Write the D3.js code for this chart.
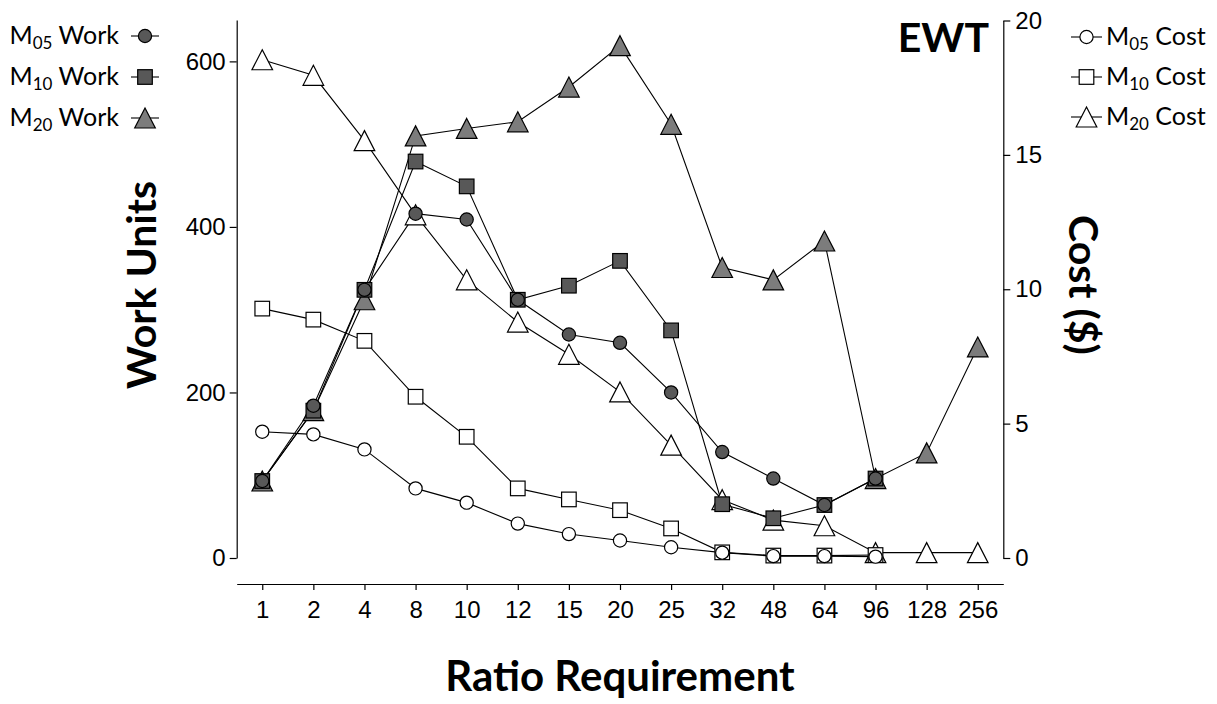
<!DOCTYPE html>
<html>
<head>
<meta charset="utf-8">
<script src="https://cdn.jsdelivr.net/npm/d3@7"></script>
<style>
  body { margin: 0; background: #fff; }
  svg { font-family: Lato, "Open Sans", sans-serif; }
  .axis text { font-size: 24px; fill: #000; }
  .axis path, .axis line { stroke: #000; stroke-width: 1.2; }
</style>
</head>
<body>
<div id="chart"></div>
<script>
const width = 1217, height = 704;

// ratio requirement categories
const ratios = ['1', '2', '4', '8', '10', '12', '15', '20', '25', '32', '48', '64', '96', '128', '256'];

// work units (left axis)
const m05Work = [93, 184, 324, 416, 409, 312, 270, 260, 200, 128, 96, 64, 96, null, null];
const m10Work = [93, 178, 324, 479, 449, 312, 329, 359, 275, 65, 48, 64, 96, null, null];
const m20Work = [93, 178, 312, 510, 519, 527, 569, 619, 524, 351, 336, 383, 96, 127, 255];

// cost in dollars (right axis)
const m05Cost = [4.70, 4.60, 4.04, 2.59, 2.06, 1.28, 0.89, 0.65, 0.40, 0.20, 0.07, 0.07, 0.05, null, null];
const m10Cost = [9.28, 8.87, 8.08, 6.00, 4.51, 2.59, 2.18, 1.78, 1.10, 0.21, 0.09, 0.09, 0.11, null, null];
const m20Cost = [18.54, 17.96, 15.53, 12.77, 10.35, 8.78, 7.58, 6.18, 4.20, 2.17, 1.41, 1.20, 0.20, 0.20, 0.20];

const leftTicks = [0, 200, 400, 600];
const rightTicks = [0, 5, 10, 15, 20];

const svg = d3.select('#chart').append('svg')
  .attr('width', width)
  .attr('height', height);

const x = d3.scalePoint()
  .domain(ratios)
  .range([236.7, 1003.3])
  .padding(0.5);

const yWork = d3.scaleLinear().domain([0, 650]).range([558, 20]);
const yCost = d3.scaleLinear().domain([0, 20]).range([558, 20.5]);

// axes
svg.append('g')
  .attr('class', 'axis')
  .attr('transform', 'translate(0,584)')
  .call(d3.axisBottom(x).tickSize(6).tickSizeOuter(0).tickPadding(11));

svg.append('g')
  .attr('class', 'axis')
  .attr('transform', 'translate(236.7,0)')
  .call(d3.axisLeft(yWork).tickValues(leftTicks).tickSize(7).tickSizeOuter(0).tickPadding(4));

svg.append('g')
  .attr('class', 'axis')
  .attr('transform', 'translate(1003.3,0)')
  .call(d3.axisRight(yCost).tickValues(rightTicks).tickSize(7).tickSizeOuter(0).tickPadding(5));

// titles
svg.append('text')
  .attr('x', 620).attr('y', 691)
  .attr('text-anchor', 'middle')
  .style('font-size', '42px').style('font-weight', 'bold')
  .text('Ratio Requirement');

svg.append('text')
  .attr('transform', 'translate(156,285) rotate(-90)')
  .attr('text-anchor', 'middle')
  .style('font-size', '41px').style('font-weight', 'bold')
  .text('Work Units');

svg.append('text')
  .attr('transform', 'translate(1069,285) rotate(90)')
  .attr('text-anchor', 'middle')
  .style('font-size', '41px').style('font-weight', 'bold')
  .text('Cost ($)');

svg.append('text')
  .attr('x', 989).attr('y', 52)
  .attr('text-anchor', 'end')
  .style('font-size', '41px').style('font-weight', 'bold')
  .text('EWT');

// marker shapes
const darkFill = '#585858', triFill = '#7c7c7c';
function drawMarker(g, shape, fill) {
  if (shape === 'circle') {
    g.append('circle').attr('r', 6.6);
  } else if (shape === 'square') {
    g.append('rect').attr('x', -7.3).attr('y', -7.3).attr('width', 14.6).attr('height', 14.6);
  } else {
    g.append('path').attr('d', 'M0,-10L10.3,10L-10.3,10Z');
  }
  g.selectAll('*').attr('fill', fill).attr('stroke', '#000').attr('stroke-width', 1.2);
}

const series = [
  { values: m20Cost, scale: yCost, shape: 'triangle', fill: '#fff' },
  { values: m10Cost, scale: yCost, shape: 'square', fill: '#fff' },
  { values: m05Cost, scale: yCost, shape: 'circle', fill: '#fff' },
  { values: m20Work, scale: yWork, shape: 'triangle', fill: triFill },
  { values: m10Work, scale: yWork, shape: 'square', fill: darkFill },
  { values: m05Work, scale: yWork, shape: 'circle', fill: darkFill },
];

series.forEach(s => {
  s.points = s.values.map((v, i) => ({ key: ratios[i], v }));
  const line = d3.line()
    .defined(d => d.v != null)
    .x(d => x(d.key))
    .y(d => s.scale(d.v));
  svg.append('path')
    .attr('d', line(s.points))
    .attr('fill', 'none')
    .attr('stroke', '#000')
    .attr('stroke-width', 1.1);
});

series.forEach(s => {
  s.points.filter(d => d.v != null).forEach(d => {
    const g = svg.append('g').attr('transform', `translate(${x(d.key)},${s.scale(d.v)})`);
    drawMarker(g, s.shape, s.fill);
  });
});

// legends
const workLegend = [
  { sub: '05', label: ' Work', shape: 'circle', fill: darkFill, y: 36 },
  { sub: '10', label: ' Work', shape: 'square', fill: darkFill, y: 77 },
  { sub: '20', label: ' Work', shape: 'triangle', fill: triFill, y: 118 },
];
const costLegend = [
  { sub: '05', label: ' Cost', shape: 'circle', y: 37 },
  { sub: '10', label: ' Cost', shape: 'square', y: 77 },
  { sub: '20', label: ' Cost', shape: 'triangle', y: 117 },
];

function legendText(t, d) {
  t.append('tspan').text('M');
  t.append('tspan').attr('dy', 5).style('font-size', '17px').text(d.sub);
  t.append('tspan').attr('dy', -5).text(d.label);
}

workLegend.forEach(d => {
  svg.append('line')
    .attr('x1', 131).attr('x2', 159).attr('y1', d.y).attr('y2', d.y)
    .attr('stroke', '#000').attr('stroke-width', 1.1);
  drawMarker(svg.append('g').attr('transform', `translate(145,${d.y})`), d.shape, d.fill);
  const t = svg.append('text')
    .attr('x', 119).attr('y', d.y + 8)
    .attr('text-anchor', 'end')
    .style('font-size', '25px');
  legendText(t, d);
});

costLegend.forEach(d => {
  svg.append('line')
    .attr('x1', 1071).attr('x2', 1102).attr('y1', d.y).attr('y2', d.y)
    .attr('stroke', '#000').attr('stroke-width', 1.1);
  drawMarker(svg.append('g').attr('transform', `translate(1086.5,${d.y})`), d.shape, '#fff');
  const t = svg.append('text')
    .attr('x', 1106).attr('y', d.y + 8)
    .style('font-size', '25px');
  legendText(t, d);
});
</script>
</body>
</html>
